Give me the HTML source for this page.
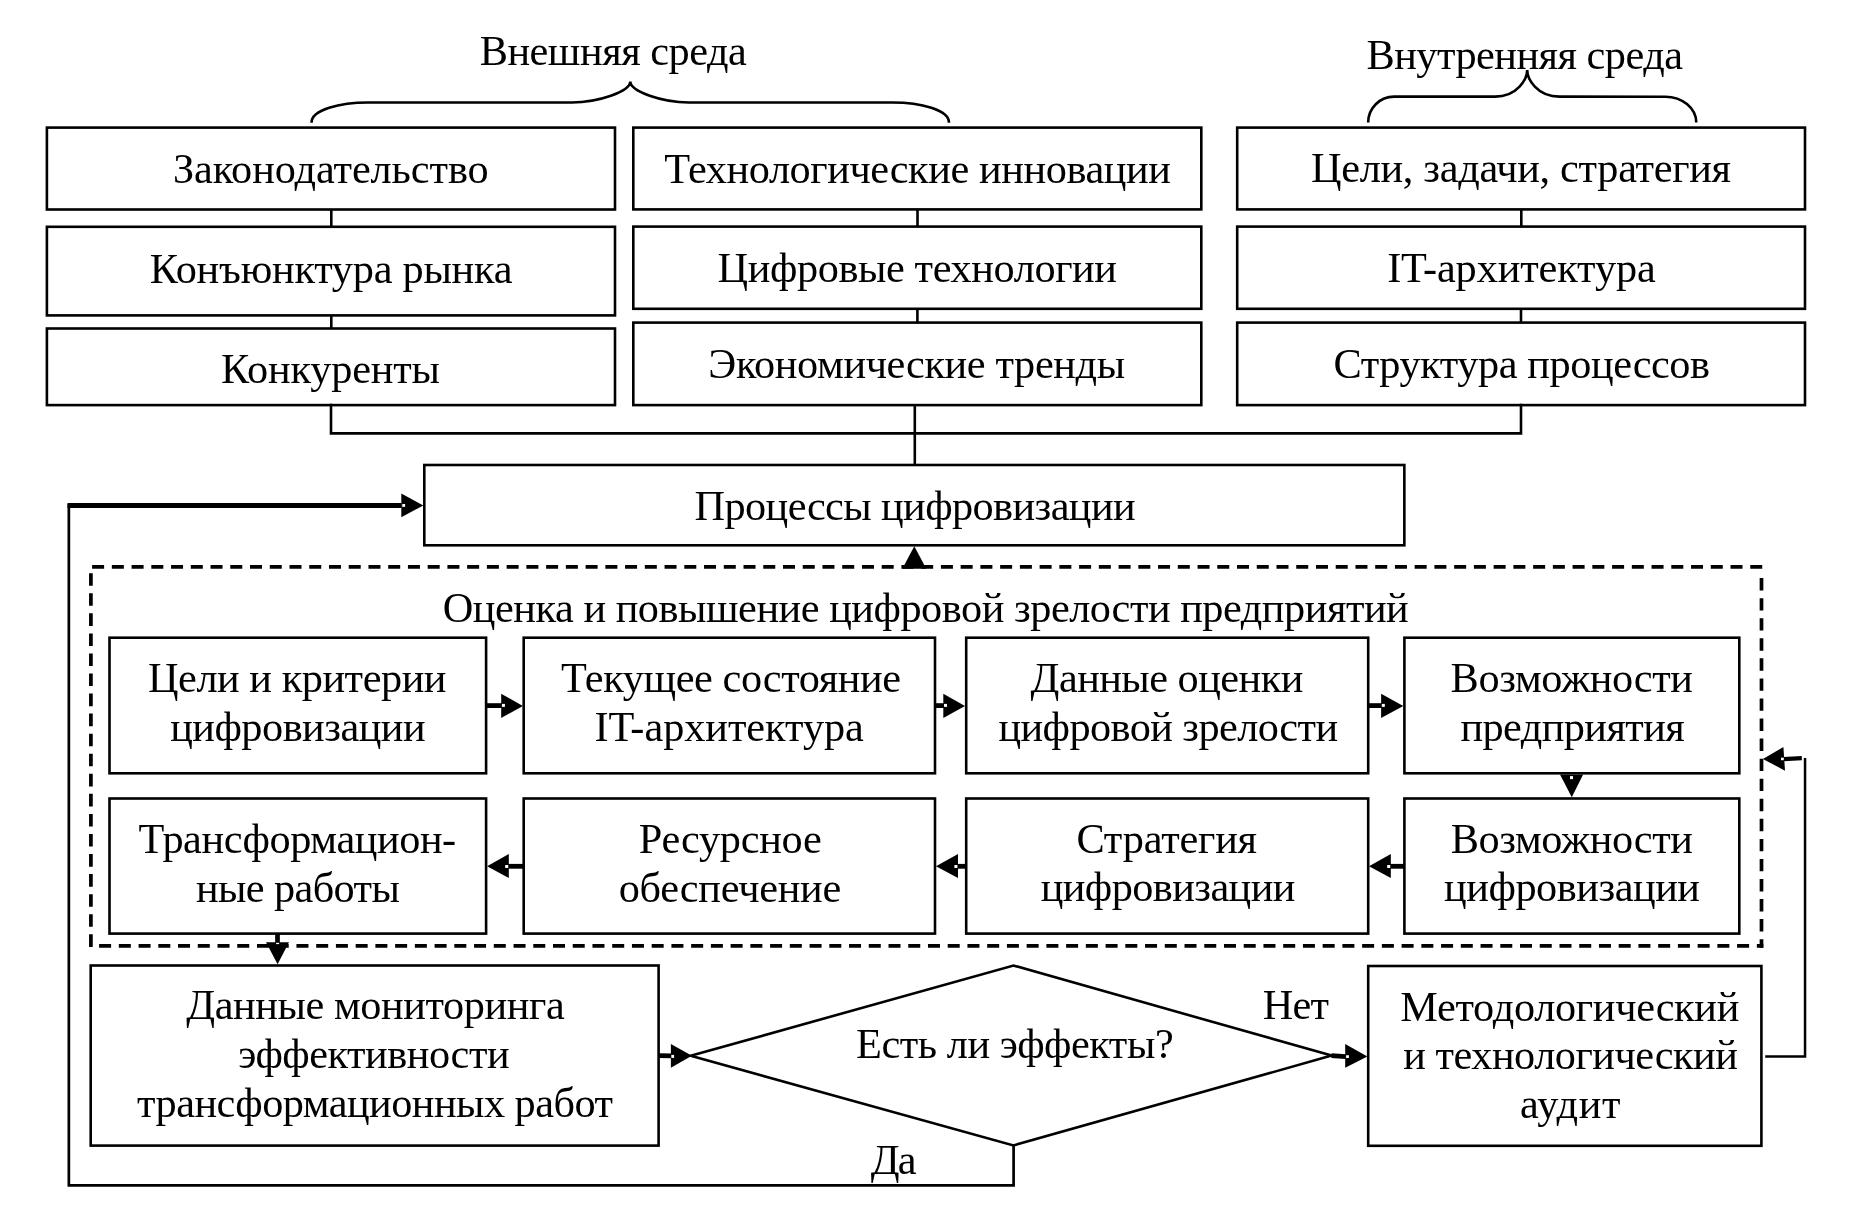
<!DOCTYPE html>
<html><head><meta charset="utf-8"><style>
html,body{margin:0;padding:0;background:#fff;}
svg{display:block;}
svg{will-change:transform;}
text{font-family:"Liberation Serif",serif;fill:#000;}
</style></head><body>
<svg width="1869" height="1224" viewBox="0 0 1869 1224">
<rect x="0" y="0" width="1869" height="1224" fill="#fff"/>
<path d="M311.55,122.7 C311.3,110.1 339.9,102.45 368,102.45 L572,102.5 C598,102.5 630.3,91.64 630.3,81.6 M630.3,81.6 C630.3,91.64 662.6,102.5 688.6,102.5 L892.5,102.45 C920.6,102.45 949.2,110.1 948.95,122.7" fill="none" stroke="#000" stroke-width="2.6"/>
<path d="M1368.15,122.6 C1368.15,108.24 1379.79,96.65 1394.15,96.65 L1495,96.6 C1517.54,96.6 1527.2,78.64 1527.2,69.9 M1527.2,69.9 C1527.2,78.64 1536.86,96.6 1559.4,96.6 L1665.3,96.7 C1682.4,96.7 1696.3,108.3 1696.3,122.6" fill="none" stroke="#000" stroke-width="2.6"/>
<rect x="46.9" y="127.6" width="568.1" height="81.9" fill="none" stroke="#000" stroke-width="2.6"/>
<rect x="46.9" y="226.8" width="568.1" height="88.6" fill="none" stroke="#000" stroke-width="2.6"/>
<rect x="46.9" y="328.5" width="568.1" height="76.6" fill="none" stroke="#000" stroke-width="2.6"/>
<rect x="633.3" y="127.6" width="568.0" height="81.8" fill="none" stroke="#000" stroke-width="2.6"/>
<rect x="633.3" y="226.6" width="568.0" height="82.2" fill="none" stroke="#000" stroke-width="2.6"/>
<rect x="633.3" y="322.6" width="568.0" height="82.5" fill="none" stroke="#000" stroke-width="2.6"/>
<rect x="1237.2" y="127.6" width="567.8" height="81.8" fill="none" stroke="#000" stroke-width="2.6"/>
<rect x="1237.2" y="226.6" width="567.8" height="82.2" fill="none" stroke="#000" stroke-width="2.6"/>
<rect x="1237.2" y="322.6" width="567.8" height="82.5" fill="none" stroke="#000" stroke-width="2.6"/>
<line x1="331.3" y1="209.5" x2="331.3" y2="226.8" stroke="#000" stroke-width="2.6" />
<line x1="331.3" y1="315.4" x2="331.3" y2="328.5" stroke="#000" stroke-width="2.6" />
<line x1="917.5" y1="209.4" x2="917.5" y2="226.6" stroke="#000" stroke-width="2.6" />
<line x1="917.4" y1="308.8" x2="917.4" y2="322.6" stroke="#000" stroke-width="2.6" />
<line x1="1521.3" y1="209.4" x2="1521.3" y2="226.6" stroke="#000" stroke-width="2.6" />
<line x1="1521.0" y1="308.8" x2="1521.0" y2="322.6" stroke="#000" stroke-width="2.6" />
<polyline points="331,405.1 331,433.4 1521,433.4 1521,405.1" fill="none" stroke="#000" stroke-width="2.6" stroke-linejoin="miter" stroke-linecap="square"/>
<line x1="914.8" y1="405.1" x2="914.8" y2="465" stroke="#000" stroke-width="2.6" />
<rect x="424.3" y="465" width="980.05" height="80.3" fill="none" stroke="#000" stroke-width="2.6"/>
<polyline points="1013.6,1145.4 1013.6,1185.3 68.85,1185.3 68.85,505.5" fill="none" stroke="#000" stroke-width="2.7" stroke-linejoin="miter" stroke-linecap="square"/>
<line x1="67.5" y1="505.5" x2="401.5" y2="505.5" stroke="#000" stroke-width="4.8" />
<polygon points="401.3,493.6 423.3,505.4 401.3,517.2" fill="#000"/>
<rect x="402.3" y="504" width="2.8" height="2.9" fill="#fff"/>
<polygon points="902.35,568.75 914.3,546.3 926.25,568.75" fill="#000"/>
<path d="M92.1,566.9H104.1M111.84,566.9H123.84M131.58,566.9H143.58M151.32,566.9H163.32M171.06,566.9H183.06M190.8,566.9H202.8M210.54,566.9H222.54M230.28,566.9H242.28M250.02,566.9H262.02M269.76,566.9H281.76M289.5,566.9H301.5M309.24,566.9H321.24M328.98,566.9H340.98M348.72,566.9H360.72M368.46,566.9H380.46M388.2,566.9H400.2M407.94,566.9H419.94M427.68,566.9H439.68M447.42,566.9H459.42M467.16,566.9H479.16M486.9,566.9H498.9M506.64,566.9H518.64M526.38,566.9H538.38M546.12,566.9H558.12M565.86,566.9H577.86M585.6,566.9H597.6M605.34,566.9H617.34M625.08,566.9H637.08M644.82,566.9H656.82M664.56,566.9H676.56M684.3,566.9H696.3M704.04,566.9H716.04M723.78,566.9H735.78M743.52,566.9H755.52M763.26,566.9H775.26M783.0,566.9H795.0M802.74,566.9H814.74M822.48,566.9H834.48M842.22,566.9H854.22M861.96,566.9H873.96M881.7,566.9H893.7M901.44,566.9H913.44M921.18,566.9H933.18M940.92,566.9H952.92M960.66,566.9H972.66M980.4,566.9H992.4M1000.14,566.9H1012.14M1019.88,566.9H1031.88M1039.62,566.9H1051.62M1059.36,566.9H1071.36M1079.1,566.9H1091.1M1098.84,566.9H1110.84M1118.58,566.9H1130.58M1138.32,566.9H1150.32M1158.06,566.9H1170.06M1177.8,566.9H1189.8M1197.54,566.9H1209.54M1217.28,566.9H1229.28M1237.02,566.9H1249.02M1256.76,566.9H1268.76M1276.5,566.9H1288.5M1296.24,566.9H1308.24M1315.98,566.9H1327.98M1335.72,566.9H1347.72M1355.46,566.9H1367.46M1375.2,566.9H1387.2M1394.94,566.9H1406.94M1414.68,566.9H1426.68M1434.42,566.9H1446.42M1454.16,566.9H1466.16M1473.9,566.9H1485.9M1493.64,566.9H1505.64M1513.38,566.9H1525.38M1533.12,566.9H1545.12M1552.86,566.9H1564.86M1572.6,566.9H1584.6M1592.34,566.9H1604.34M1612.08,566.9H1624.08M1631.82,566.9H1643.82M1651.56,566.9H1663.56M1671.3,566.9H1683.3M1691.04,566.9H1703.04M1710.78,566.9H1722.78M1730.52,566.9H1742.52M1750.26,566.9H1762.26" stroke="#000" stroke-width="3.7" fill="none"/>
<path d="M1761.5,578.1V590.5M1761.5,598.16V610.56M1761.5,618.22V630.62M1761.5,638.28V650.68M1761.5,658.34V670.74M1761.5,678.4V690.8M1761.5,698.46V710.86M1761.5,718.52V730.92M1761.5,738.58V750.98M1761.5,758.64V771.04M1761.5,778.7V791.1M1761.5,798.76V811.16M1761.5,818.82V831.22M1761.5,838.88V851.28M1761.5,858.94V871.34M1761.5,879.0V891.4M1761.5,899.06V911.46M1761.5,919.12V931.52M1761.5,939.18V947.75" stroke="#000" stroke-width="3.7" fill="none"/>
<path d="M99.1,945.9H111.1M118.83,945.9H130.83M138.57,945.9H150.57M158.31,945.9H170.31M178.04,945.9H190.04M197.78,945.9H209.78M217.51,945.9H229.51M237.25,945.9H249.25M256.98,945.9H268.98M276.72,945.9H288.72M296.45,945.9H308.45M316.19,945.9H328.19M335.92,945.9H347.92M355.66,945.9H367.66M375.39,945.9H387.39M395.13,945.9H407.13M414.86,945.9H426.86M434.6,945.9H446.6M454.33,945.9H466.33M474.07,945.9H486.07M493.8,945.9H505.8M513.54,945.9H525.54M533.27,945.9H545.27M553.01,945.9H565.01M572.74,945.9H584.74M592.48,945.9H604.48M612.21,945.9H624.21M631.95,945.9H643.95M651.68,945.9H663.68M671.42,945.9H683.42M691.15,945.9H703.15M710.89,945.9H722.89M730.62,945.9H742.62M750.36,945.9H762.36M770.09,945.9H782.09M789.83,945.9H801.83M809.56,945.9H821.56M829.3,945.9H841.3M849.03,945.9H861.03M868.77,945.9H880.77M888.5,945.9H900.5M908.24,945.9H920.24M927.97,945.9H939.97M947.71,945.9H959.71M967.44,945.9H979.44M987.18,945.9H999.18M1006.91,945.9H1018.91M1026.65,945.9H1038.65M1046.38,945.9H1058.38M1066.12,945.9H1078.12M1085.85,945.9H1097.85M1105.59,945.9H1117.59M1125.32,945.9H1137.32M1145.05,945.9H1157.05M1164.79,945.9H1176.79M1184.52,945.9H1196.52M1204.26,945.9H1216.26M1223.99,945.9H1235.99M1243.73,945.9H1255.73M1263.46,945.9H1275.46M1283.2,945.9H1295.2M1302.93,945.9H1314.93M1322.67,945.9H1334.67M1342.4,945.9H1354.4M1362.14,945.9H1374.14M1381.87,945.9H1393.87M1401.61,945.9H1413.61M1421.34,945.9H1433.34M1441.08,945.9H1453.08M1460.81,945.9H1472.81M1480.55,945.9H1492.55M1500.28,945.9H1512.28M1520.02,945.9H1532.02M1539.75,945.9H1551.75M1559.49,945.9H1571.49M1579.22,945.9H1591.22M1598.96,945.9H1610.96M1618.69,945.9H1630.69M1638.43,945.9H1650.43M1658.16,945.9H1670.16M1677.9,945.9H1689.9M1697.63,945.9H1709.63M1717.37,945.9H1729.37M1737.1,945.9H1749.1M1756.84,945.9H1763.35" stroke="#000" stroke-width="3.7" fill="none"/>
<path d="M90.9,573.2V585.8M90.9,593.26V605.86M90.9,613.32V625.92M90.9,633.38V645.98M90.9,653.44V666.04M90.9,673.5V686.1M90.9,693.56V706.16M90.9,713.62V726.22M90.9,733.68V746.28M90.9,753.74V766.34M90.9,773.8V786.4M90.9,793.86V806.46M90.9,813.92V826.52M90.9,833.98V846.58M90.9,854.04V866.64M90.9,874.1V886.7M90.9,894.16V906.76M90.9,914.22V926.82M90.9,934.28V946.88" stroke="#000" stroke-width="3.7" fill="none"/>
<rect x="109.5" y="637.7" width="376.6" height="135.6" fill="none" stroke="#000" stroke-width="2.6"/>
<rect x="109.5" y="798.5" width="376.6" height="135.1" fill="none" stroke="#000" stroke-width="2.6"/>
<rect x="523.7" y="637.7" width="411.3" height="135.6" fill="none" stroke="#000" stroke-width="2.6"/>
<rect x="523.7" y="798.5" width="411.3" height="135.1" fill="none" stroke="#000" stroke-width="2.6"/>
<rect x="966.2" y="637.7" width="402.0" height="135.6" fill="none" stroke="#000" stroke-width="2.6"/>
<rect x="966.2" y="798.5" width="402.0" height="135.1" fill="none" stroke="#000" stroke-width="2.6"/>
<rect x="1404.4" y="637.7" width="334.9" height="135.6" fill="none" stroke="#000" stroke-width="2.6"/>
<rect x="1404.4" y="798.5" width="334.9" height="135.1" fill="none" stroke="#000" stroke-width="2.6"/>
<line x1="486.1" y1="705.6" x2="502.2" y2="705.6" stroke="#000" stroke-width="4.8" />
<polygon points="501.2,693.8 522.9,705.9 501.2,718.0" fill="#000"/>
<rect x="501.9" y="703.9" width="3" height="3" fill="#fff"/>
<line x1="935.0" y1="705.6" x2="944.3" y2="705.6" stroke="#000" stroke-width="4.8" />
<polygon points="943.3,693.8 965.0,705.9 943.3,718.0" fill="#000"/>
<rect x="944.0" y="703.9" width="3" height="3" fill="#fff"/>
<line x1="1368.2" y1="705.6" x2="1382.1" y2="705.6" stroke="#000" stroke-width="4.8" />
<polygon points="1381.1,693.8 1403.3,705.9 1381.1,718.0" fill="#000"/>
<rect x="1381.8" y="703.9" width="3" height="3" fill="#fff"/>
<line x1="1404.3" y1="866.3" x2="1389.8" y2="866.3" stroke="#000" stroke-width="4.8" />
<polygon points="1390.8,854.0 1369.0,866.3 1390.8,878.0" fill="#000"/>
<rect x="1387.2" y="865" width="3" height="3" fill="#fff"/>
<line x1="966.1" y1="866.3" x2="957.0" y2="866.3" stroke="#000" stroke-width="4.8" />
<polygon points="958.0,854.0 936.0,866.3 958.0,878.0" fill="#000"/>
<rect x="954.4" y="865" width="3" height="3" fill="#fff"/>
<line x1="523.7" y1="866.3" x2="507.8" y2="866.3" stroke="#000" stroke-width="4.8" />
<polygon points="508.8,854.0 487.1,866.3 508.8,878.0" fill="#000"/>
<rect x="505.2" y="865" width="3" height="3" fill="#fff"/>
<polygon points="1560,774.5 1583.1,774.5 1571.8,797.2" fill="#000"/>
<rect x="1570" y="776.1" width="3" height="3" fill="#fff"/>
<line x1="277.5" y1="933.6" x2="277.5" y2="943" stroke="#000" stroke-width="4.7" />
<polygon points="266.0,942.3 289.0,942.3 277.6,964.2" fill="#000"/>
<rect x="276.1" y="942.8" width="3" height="1.3" fill="#fff"/>
<rect x="90.7" y="965.5" width="567.9" height="180.1" fill="none" stroke="#000" stroke-width="2.6"/>
<line x1="658.6" y1="1055.6" x2="671.5" y2="1055.8" stroke="#000" stroke-width="4.8" />
<polygon points="670.9,1043.9 691.9,1055.7 670.9,1067.7" fill="#000"/>
<rect x="671.3" y="1054.9" width="2.8" height="3" fill="#fff"/>
<polygon points="690.7,1055.8 1013.5,965.5 1331.6,1055.6 1013.5,1145.4" fill="none" stroke="#000" stroke-width="2.6" stroke-linejoin="miter" stroke-miterlimit="20"/>
<line x1="1331.5" y1="1055.6" x2="1345.6" y2="1056.6" stroke="#000" stroke-width="4.8" />
<polygon points="1345.2,1044.0 1367.4,1056.6 1345.2,1067.8" fill="#000"/>
<rect x="1346.1" y="1055.2" width="2.8" height="2.8" fill="#fff"/>
<rect x="1368.2" y="966.0" width="393.2" height="179.8" fill="none" stroke="#000" stroke-width="2.6"/>
<polyline points="1765.2,1056.6 1805.05,1056.6 1805.05,758.1" fill="none" stroke="#000" stroke-width="2.5" stroke-linejoin="miter"/>
<line x1="1801.8" y1="758.2" x2="1783.5" y2="759.2" stroke="#000" stroke-width="4.2"/>
<polygon points="1783.4,747.0 1762.9,758.9 1785.0,770.8" fill="#000"/>
<rect x="1781.0" y="757.7" width="2.8" height="2.5" fill="#fff"/>
<text x="613.22" y="65.15" text-anchor="middle" font-size="42.3" textLength="267.14" lengthAdjust="spacing">Внешняя среда</text>
<text x="1524.7" y="68.5" text-anchor="middle" font-size="42.3" textLength="316.51" lengthAdjust="spacing">Внутренняя среда</text>
<text x="330.8" y="182.8" text-anchor="middle" font-size="42.3" textLength="315.65" lengthAdjust="spacing">Законодательство</text>
<text x="331.15" y="282.5" text-anchor="middle" font-size="42.3" textLength="362.6" lengthAdjust="spacing">Конъюнктура рынка</text>
<text x="330.55" y="383.0" text-anchor="middle" font-size="42.3" textLength="218.91" lengthAdjust="spacing">Конкуренты</text>
<text x="917.5" y="182.65" text-anchor="middle" font-size="42.3" textLength="506.73" lengthAdjust="spacing">Технологические инновации</text>
<text x="917.25" y="281.6" text-anchor="middle" font-size="42.3" textLength="399.5" lengthAdjust="spacing">Цифровые технологии</text>
<text x="916.75" y="378.0" text-anchor="middle" font-size="42.3" textLength="416.78" lengthAdjust="spacing">Экономические тренды</text>
<text x="1521.0" y="181.8" text-anchor="middle" font-size="42.3" textLength="420.1" lengthAdjust="spacing">Цели, задачи, стратегия</text>
<text x="1521.45" y="281.6" text-anchor="middle" font-size="42.3" textLength="268.62" lengthAdjust="spacing">IT-архитектура</text>
<text x="1521.75" y="378.0" text-anchor="middle" font-size="42.3" textLength="376.68" lengthAdjust="spacing">Структура процессов</text>
<text x="915.05" y="519.75" text-anchor="middle" font-size="42.3" textLength="441.03" lengthAdjust="spacing">Процессы цифровизации</text>
<text x="925.75" y="622.2" text-anchor="middle" font-size="42.3" textLength="965.92" lengthAdjust="spacing">Оценка и повышение цифровой зрелости предприятий</text>
<text x="297.25" y="691.9" text-anchor="middle" font-size="42.3" textLength="298.43" lengthAdjust="spacing">Цели и критерии</text>
<text x="297.9" y="741.0" text-anchor="middle" font-size="42.3" textLength="255.43" lengthAdjust="spacing">цифровизации</text>
<text x="730.95" y="691.85" text-anchor="middle" font-size="42.3" textLength="340.05" lengthAdjust="spacing">Текущее состояние</text>
<text x="729.15" y="741.4" text-anchor="middle" font-size="42.3" textLength="269.48" lengthAdjust="spacing">IT-архитектура</text>
<text x="1166.95" y="691.85" text-anchor="middle" font-size="42.3" textLength="272.76" lengthAdjust="spacing">Данные оценки</text>
<text x="1168.3" y="741.4" text-anchor="middle" font-size="42.3" textLength="339.61" lengthAdjust="spacing">цифровой зрелости</text>
<text x="1571.8" y="692.0" text-anchor="middle" font-size="42.3" textLength="242.36" lengthAdjust="spacing">Возможности</text>
<text x="1572.6" y="741.4" text-anchor="middle" font-size="42.3" textLength="224.4" lengthAdjust="spacing">предприятия</text>
<text x="297.4" y="852.9" text-anchor="middle" font-size="42.3" textLength="317.62" lengthAdjust="spacing">Трансформацион-</text>
<text x="297.95" y="902.2" text-anchor="middle" font-size="42.3" textLength="203.87" lengthAdjust="spacing">ные работы</text>
<text x="730.2" y="852.8" text-anchor="middle" font-size="42.3" textLength="182.96" lengthAdjust="spacing">Ресурсное</text>
<text x="729.95" y="902.2" text-anchor="middle" font-size="42.3" textLength="222.48" lengthAdjust="spacing">обеспечение</text>
<text x="1166.75" y="852.8" text-anchor="middle" font-size="42.3" textLength="180.68" lengthAdjust="spacing">Стратегия</text>
<text x="1168.05" y="901.2" text-anchor="middle" font-size="42.3" textLength="254.56" lengthAdjust="spacing">цифровизации</text>
<text x="1571.85" y="852.6" text-anchor="middle" font-size="42.3" textLength="242.14" lengthAdjust="spacing">Возможности</text>
<text x="1572.05" y="900.9" text-anchor="middle" font-size="42.3" textLength="255.87" lengthAdjust="spacing">цифровизации</text>
<text x="375.45" y="1019.4" text-anchor="middle" font-size="42.3" textLength="378.53" lengthAdjust="spacing">Данные мониторинга</text>
<text x="373.85" y="1068.4" text-anchor="middle" font-size="42.3" textLength="271.44" lengthAdjust="spacing">эффективности</text>
<text x="375.05" y="1117.15" text-anchor="middle" font-size="42.3" textLength="475.94" lengthAdjust="spacing">трансформационных работ</text>
<text x="1014.85" y="1057.8" text-anchor="middle" font-size="42.3" textLength="317.66" lengthAdjust="spacing">Есть ли эффекты?</text>
<text x="893.65" y="1173.9" text-anchor="middle" font-size="42.3" textLength="45.7" lengthAdjust="spacing">Да</text>
<text x="1295.85" y="1019.3" text-anchor="middle" font-size="42.3" textLength="66.13" lengthAdjust="spacing">Нет</text>
<text x="1569.8" y="1021.1" text-anchor="middle" font-size="42.3" textLength="338.97" lengthAdjust="spacing">Методологический</text>
<text x="1570.55" y="1069.0" text-anchor="middle" font-size="42.3" textLength="334.52" lengthAdjust="spacing">и технологический</text>
<text x="1570.25" y="1118.05" text-anchor="middle" font-size="42.3" textLength="100.33" lengthAdjust="spacing">аудит</text>
</svg>
</body></html>
